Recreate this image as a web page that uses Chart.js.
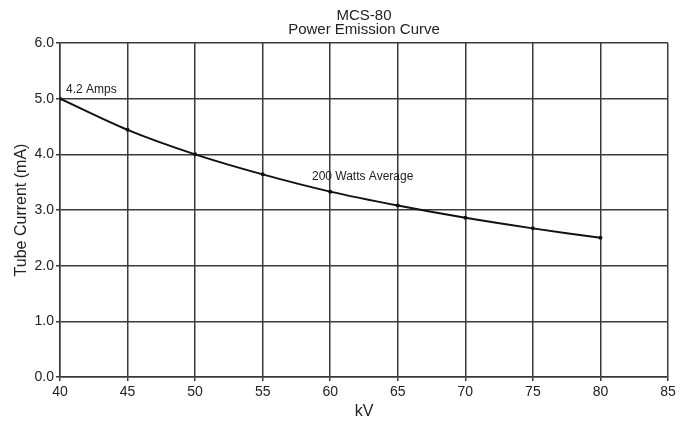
<!DOCTYPE html>
<html>
<head>
<meta charset="utf-8">
<script src="https://cdn.jsdelivr.net/npm/chart.js@4/dist/chart.umd.min.js"></script>
<style>
  html, body { margin: 0; padding: 0; background: #fff; }
  #wrap { width: 687px; height: 423px; }
</style>
</head>
<body>
<div id="wrap"><canvas id="chart"></canvas></div>
<script>
// values (tube current in mA at each kV)
const kv = [40, 45, 50, 55, 60, 65, 70, 75, 80];
const current = [5.0, 4.44, 4.0, 3.64, 3.33, 3.08, 2.86, 2.67, 2.5];
const titleLines = ['MCS-80', 'Power Emission Curve'];
const notes = [
    { text: '4.2 Amps', x: 40.45, y: 5.16, align: 'left' },
    { text: '200 Watts Average', x: 62.4, y: 3.6, align: 'center' }
];

const font = 'Liberation Sans, Arial, sans-serif';
const gridColor = '#3a3a3a';

// title centred over the plot area, plus the little text notes at data positions
const notesPlugin = {
    id: 'notes',
    afterDatasetsDraw(chart) {
        const ctx = chart.ctx;
        const xs = chart.scales.x, ys = chart.scales.y;
        const area = chart.chartArea;
        ctx.save();
        ctx.fillStyle = '#222';
        ctx.textBaseline = 'middle';
        ctx.textAlign = 'center';
        ctx.font = '15px ' + font;
        titleLines.forEach((t, i) => {
            ctx.fillText(t, (area.left + area.right) / 2, 16 + i * 14);
        });
        ctx.font = '12px ' + font;
        notes.forEach(n => {
            ctx.textAlign = n.align;
            ctx.fillText(n.text, xs.getPixelForValue(n.x), ys.getPixelForValue(n.y));
        });
        ctx.restore();
    }
};

new Chart(document.getElementById('chart'), {
    type: 'line',
    data: {
        datasets: [{
            data: kv.map((k, i) => ({ x: k, y: current[i] })),
            borderColor: '#111',
            borderWidth: 2,
            pointRadius: 2,
            pointBackgroundColor: '#111',
            pointBorderWidth: 0,
            tension: 0.3,
            fill: false
        }]
    },
    options: {
        responsive: true,
        maintainAspectRatio: false,
        animation: false,
        layout: { padding: { top: 43, right: 19, left: 0, bottom: 0 } },
        plugins: {
            legend: { display: false },
            tooltip: { enabled: false },
            title: { display: false }
        },
        scales: {
            x: {
                type: 'linear',
                min: 40,
                max: 85,
                ticks: { stepSize: 5, color: '#222', font: { family: font, size: 14 }, padding: 3 },
                grid: { color: gridColor, lineWidth: 1.5, tickLength: 4 },
                border: { color: gridColor, width: 1.5 },
                title: { display: true, text: 'kV', color: '#222', font: { family: font, size: 16 }, padding: { top: 1, bottom: 2 } },
                afterFit(scale) { scale.height = 46; }
            },
            y: {
                min: 0,
                max: 6,
                ticks: {
                    stepSize: 1,
                    color: '#222',
                    font: { family: font, size: 14 },
                    padding: 2,
                    callback: v => v.toFixed(1)
                },
                grid: { color: gridColor, lineWidth: 1.5, tickLength: 4 },
                border: { color: gridColor, width: 1.5 },
                title: { display: true, text: 'Tube Current (mA)', color: '#222', font: { family: font, size: 16 }, padding: { top: 12, bottom: 0 } },
                afterFit(scale) { scale.width = 60; }
            }
        }
    },
    plugins: [notesPlugin]
});
</script>
</body>
</html>
